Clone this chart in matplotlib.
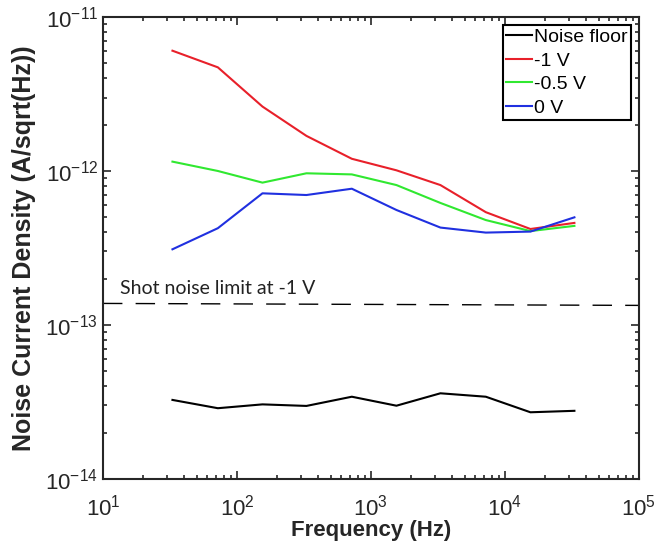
import numpy as np
import matplotlib
matplotlib.use("Agg")
import matplotlib.pyplot as plt
from matplotlib.ticker import LogLocator, NullFormatter

plt.rcParams['font.family'] = ['Liberation Sans', 'DejaVu Sans']

freq = [33, 72, 155, 330, 720, 1550, 3300, 7200, 15500, 33000]
noise_floor = [3.26e-14, 2.88e-14, 3.05e-14, 2.98e-14, 3.42e-14, 2.99e-14, 3.6e-14, 3.42e-14, 2.71e-14, 2.77e-14]
v_m1 = [6.04e-12, 4.71e-12, 2.62e-12, 1.69e-12, 1.2e-12, 1.01e-12, 8.1e-13, 5.4e-13, 4.2e-13, 4.6e-13]
v_m05 = [1.15e-12, 1.0e-12, 8.4e-13, 9.66e-13, 9.5e-13, 8.1e-13, 6.2e-13, 4.8e-13, 4.07e-13, 4.4e-13]
v_0 = [3.1e-13, 4.25e-13, 7.16e-13, 6.98e-13, 7.67e-13, 5.58e-13, 4.29e-13, 3.98e-13, 4.04e-13, 5.0e-13]
shot_x = [10, 1e5]
shot_y = [1.38e-13, 1.34e-13]

grey = '#262626'
fig = plt.figure(figsize=(6.58, 5.48), dpi=100)
ax = fig.add_axes([0.1565, 0.126, 0.8145, 0.843])

ax.plot(freq, noise_floor, color='black', lw=1.5, label='Noise floor')
ax.plot(freq, v_m1, color='#e8202a', lw=1.5, label='-1 V')
ax.plot(freq, v_m05, color='#30e830', lw=1.5, label='-0.5 V')
ax.plot(freq, v_0, color='#2030e0', lw=1.5, label='0 V')
ax.plot(shot_x, shot_y, color='black', lw=1.0, dashes=(14, 9.5))
ax.text(13.3, 1.58e-13, 'Shot noise limit at -1 V', fontsize=14, color='#222222',
        family=['Lato', 'DejaVu Sans'])

ax.set_xscale('log')
ax.set_yscale('log')
ax.set_xlim(10, 1e5)
ax.set_ylim(1e-14, 1e-11)
ax.xaxis.set_major_locator(LogLocator(base=10, numticks=10))
ax.yaxis.set_major_locator(LogLocator(base=10, numticks=10))
ax.xaxis.set_minor_locator(LogLocator(base=10, subs=np.arange(2, 10), numticks=10))
ax.yaxis.set_minor_locator(LogLocator(base=10, subs=np.arange(2, 10), numticks=10))
ax.xaxis.set_minor_formatter(NullFormatter())
ax.yaxis.set_minor_formatter(NullFormatter())
ax.tick_params(which='both', direction='in', top=True, right=True, labelsize=16,
               width=1.2, colors=grey, labelcolor=grey)
ax.tick_params(which='major', length=5.5)
ax.tick_params(which='minor', length=3)
ax.tick_params(axis='x', pad=11)
for s in ax.spines.values():
    s.set_linewidth(1.5)
    s.set_color(grey)

ax.set_xlabel('Frequency (Hz)', fontsize=16, fontweight='bold', labelpad=0, color=grey)
ax.set_ylabel('Noise Current Density (A/sqrt(Hz))', fontsize=18, fontweight='bold',
              labelpad=7, color=grey)

leg = ax.legend(loc='upper right', fontsize=14, handlelength=1.3, handletextpad=0.1,
                borderpad=0.2, labelspacing=0.3, borderaxespad=0.4, fancybox=False,
                framealpha=1, edgecolor='black')
leg.get_frame().set_linewidth(1.5)

fig.savefig('out.png', dpi=100)
